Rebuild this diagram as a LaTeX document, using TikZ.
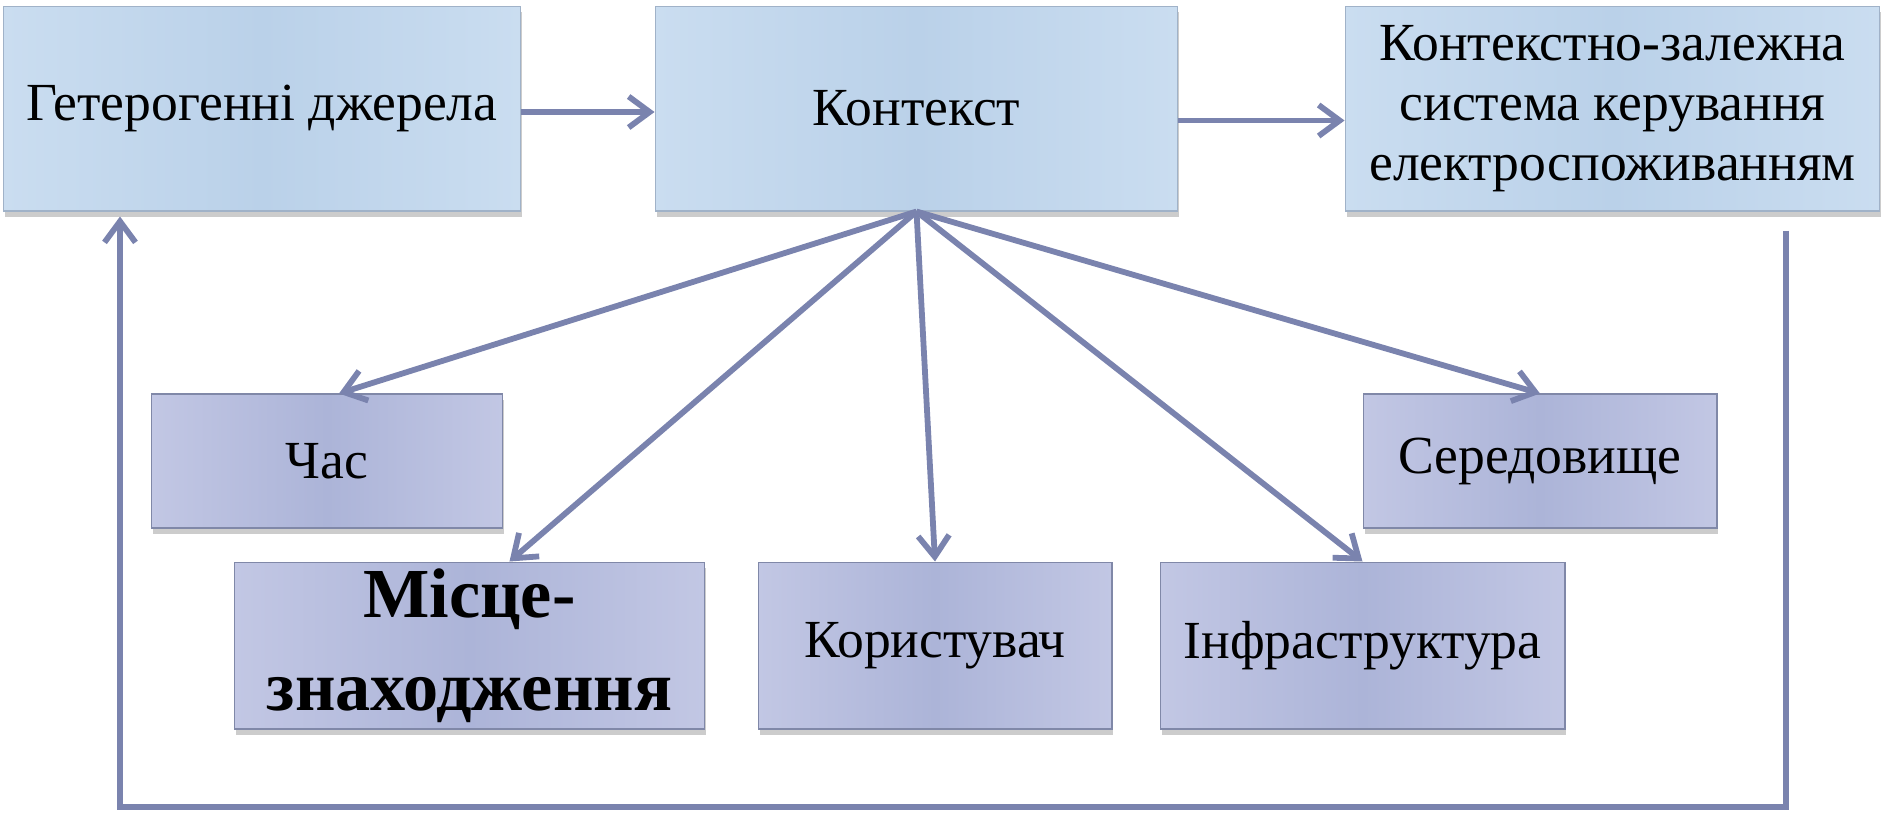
\documentclass[tikz,border=0pt]{standalone}
\usepackage{fontspec}
\setmainfont{LiberationSerif}[Extension=.ttf, UprightFont=*-Regular, BoldFont=*-Bold, ItalicFont=*-Italic, BoldItalicFont=*-BoldItalic]
\usetikzlibrary{arrows.meta,shadows}
\definecolor{topA}{RGB}{202,221,240}
\definecolor{topB}{RGB}{186,209,233}
\definecolor{topD}{RGB}{160,178,200}
\definecolor{botA}{RGB}{194,199,228}
\definecolor{botB}{RGB}{172,180,216}
\definecolor{botD}{RGB}{128,136,168}
\definecolor{arrc}{RGB}{122,131,174}
\begin{document}
\begin{tikzpicture}[x=0.02cm,y=-0.02cm,
  boxbase/.style={rectangle, inner sep=0pt, align=center,
    drop shadow={shadow xshift=0.03cm, shadow yshift=-0.12cm, opacity=0.4}},
  topbox/.style={boxbase, draw=topD, line width=0.6pt,
    left color=topA, right color=topA, middle color=topB,
    minimum height=4.1cm, font=\fontsize{30.5}{34}\selectfont},
  botbox/.style={boxbase, draw=botD, line width=0.6pt,
    left color=botA, right color=botA, middle color=botB,
    font=\fontsize{30.5}{34}\selectfont},
  bigbold/.style={font=\fontsize{40}{53}\selectfont\bfseries},
  arr/.style={draw=arrc, line width=3.3pt,
    -{Straight Barb[length=0.42cm,width=0.62cm]}}
]
\useasboundingbox (0,0) rectangle (1883,816);
% top row
\node[topbox, minimum width=10.36cm] (b1) at (262,108.5) {Гетерогенні джерела};
\node[topbox, minimum width=10.46cm] (b2) at (916.5,108.5) {Контекст};
\node[topbox, minimum width=10.7cm] (b3) at (1612.5,108.5)
  {Контекстно-залежна\\система керування\\електроспоживанням};
% bottom boxes
\node[botbox, minimum width=7.04cm, minimum height=2.68cm] (chas) at (327,461) {Час};
\node[botbox, minimum width=7.08cm, minimum height=2.68cm] (ser) at (1540,461) {Середовище};
\node[botbox, bigbold, minimum width=9.42cm, minimum height=3.34cm] (misc) at (469.5,645.5) {Місце-\\знаходження};
\node[botbox, minimum width=7.08cm, minimum height=3.34cm] (kor) at (935,645.5) {Користувач};
\node[botbox, minimum width=8.1cm, minimum height=3.34cm] (infra) at (1362.5,645.5) {Інфраструктура};
% horizontal arrows
\draw[arr] ([yshift=-0.07cm]b1.east) -- ([yshift=-0.07cm]b2.west);
\draw[arr] ([yshift=-0.24cm]b2.east) -- ([yshift=-0.24cm]b3.west);
% fan
\draw[arr] (b2.south) -- ([xshift=0.24cm]chas.north);
\draw[arr] (b2.south) -- ([xshift=0.8cm]misc.north);
\draw[arr] (b2.south) -- (kor.north);
\draw[arr] (b2.south) -- (infra.north);
\draw[arr] (b2.south) -- (ser.north);
% feedback
\coordinate (fbx) at (1786,0);
\coordinate (fbl) at (120,0);
\coordinate (fby) at (0,807);
\draw[arr] ([yshift=-0.38cm]b3.south -| fbx) -- (fbx |- fby) -- (fbl |- fby) -- ([yshift=-0.1cm]b1.south -| fbl);
\end{tikzpicture}
\end{document}
